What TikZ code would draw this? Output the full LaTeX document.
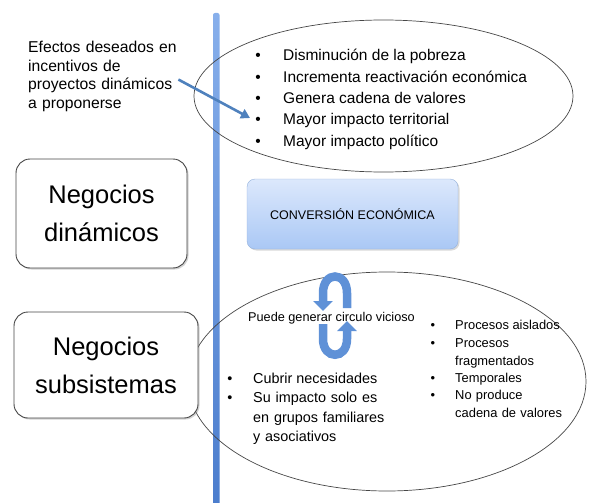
\documentclass[tikz,border=0pt]{standalone}
\usepackage{fontspec}
\setmainfont{Liberation Sans}
\usetikzlibrary{arrows.meta,shapes.geometric,shadows}

\definecolor{axisblue}{RGB}{75,125,205}
\definecolor{axislight}{RGB}{135,175,235}
\definecolor{arrowblue}{RGB}{79,129,189}
\definecolor{cycblue}{RGB}{95,145,215}
\definecolor{convtop}{RGB}{220,232,252}
\definecolor{convbot}{RGB}{170,200,245}
\definecolor{convedge}{RGB}{150,178,220}
\definecolor{ringgray}{RGB}{70,70,70}

\tikzset{
  bigbox/.style={draw=ringgray, line width=0.9pt, rounded corners=14pt, fill=white,
    align=center, font=\fontsize{25.5}{38}\selectfont,
    drop shadow={shadow xshift=1.5pt, shadow yshift=-1.5pt, opacity=0.35}},
  ring/.style={ellipse, draw=ringgray, line width=0.7pt, inner sep=0pt},
  bul/.style={anchor=base, inner sep=0pt},
  item/.style={anchor=base west, inner sep=0pt, align=left},
  cyc/.style={line width=8.5pt, cycblue, -{Triangle[length=10pt,width=19pt]}}
}

\begin{document}
\begin{tikzpicture}[x=1pt,y=-1pt]
        \useasboundingbox (0,0) rectangle (589,503);

        % Axis
        \shade[top color=axislight, bottom color=axisblue, rounded corners=2pt] (213,13) rectangle (219.5,506);

        % Desired effects
        \node[ring, minimum width=379pt, minimum height=152pt] (deseos) at (383.5,96) {};
        \foreach \txt [count=\i] in {Disminución de la pobreza, Incrementa reactivación económica,
            Genera cadena de valores, Mayor impacto territorial, Mayor impacto político} {
          \node[bul, font=\fontsize{15.5}{18}\selectfont] (dotA\i) at (258,39.7+21.3*\i) {\textbullet};
          \node[item, font=\fontsize{15.5}{18}\selectfont] (efecto\i) at (283,39.7+21.3*\i) {\txt};
        }
        \node[item, text width=150pt, font=\fontsize{15.7}{18.4}\selectfont] (efectos) at (28,53)
          {Efectos deseados en\\incentivos de\\proyectos dinámicos\\a proponerse};
        \coordinate (pointer) at (250,118);
        \draw[arrowblue, line width=2.6pt, -{Triangle[length=9pt,width=10pt]}] ([yshift=-3pt]efectos.east) -- (pointer);

        % Kinds of business
        \node[bigbox, minimum width=171pt, minimum height=109pt] (dinam) at (101.5,213.5) {Negocios\\dinámicos};
        \node[draw=convedge, rounded corners=8pt, top color=convtop, bottom color=convbot,
          minimum width=211pt, minimum height=70pt, font=\fontsize{12.5}{15}\selectfont,
          drop shadow={shadow xshift=1.5pt, shadow yshift=-1.5pt, opacity=0.3}] (conv) at (352.5,214)
          {CONVERSIÓN ECONÓMICA};

        % Vicious circle
        \node[ring, minimum width=398pt, minimum height=219pt] (vicio) at (387,381.5) {};
        \node[bigbox, minimum width=184pt, minimum height=106pt] (subsis) at (106,365) {Negocios\\subsistemas};
        \draw[cyc] (347,308) -- (347,293) .. controls (347,271) and (323,271) .. (323,293) -- (323,311);
        \draw[cyc] (323,324) -- (323,339) .. controls (323,360) and (347,360) .. (347,339) -- (347,321);
        \node[item, font=\fontsize{12.7}{15}\selectfont] (circulo) at (248,321.5) {Puede generar circulo vicioso};

        \node[bul, font=\fontsize{14.4}{19.5}\selectfont] (dotB1) at (230,383) {\textbullet};
        \node[bul, font=\fontsize{14.4}{19.5}\selectfont] (dotB2) at (230,402.5) {\textbullet};
        \node[item, font=\fontsize{14.4}{19.5}\selectfont] (cubrir) at (253,383) {Cubrir necesidades};
        \node[item, text width=150pt, font=\fontsize{14.4}{19.5}\selectfont] (impacto) at (253,402.5)
          {Su impacto solo es\\en grupos familiares\\y asociativos};

        \foreach \y in {329.6,347.6,382.6,399.6}
          \node[bul, font=\fontsize{12.9}{17.5}\selectfont] at (433,\y) {\textbullet};
        \node[item, font=\fontsize{12.9}{17.5}\selectfont] (aislados) at (455,329.6) {Procesos aislados};
        \node[item, text width=120pt, font=\fontsize{12.9}{17.5}\selectfont] (fragm) at (455,347.6) {Procesos\\fragmentados};
        \node[item, font=\fontsize{12.9}{17.5}\selectfont] (tempor) at (455,382.6) {Temporales};
        \node[item, text width=120pt, font=\fontsize{12.9}{17.5}\selectfont] (cadena) at (455,399.6) {No produce\\cadena de valores};
\end{tikzpicture}
\end{document}
